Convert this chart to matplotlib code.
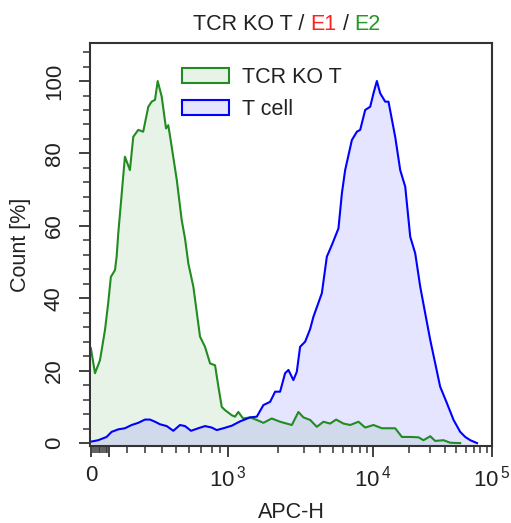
import numpy as np
import matplotlib
matplotlib.use("Agg")
import matplotlib.pyplot as plt
from matplotlib.patches import Patch
from matplotlib.colors import to_rgba
from matplotlib.ticker import FixedLocator, FixedFormatter, NullFormatter

plt.rcParams['font.family'] = ['Liberation Sans', 'DejaVu Sans']
plt.rcParams['mathtext.default'] = 'regular'

# Histogram data: APC-H value vs Count [%]
ko_apc = [-3, 20, 48, 76, 94, 109, 132, 141, 150, 159, 187, 215, 234, 262, 290,
          320, 340, 360, 376, 400, 431, 447, 464, 508, 532, 545, 570, 595, 637, 694,
          739, 785, 840, 880, 922, 965, 1057, 1106, 1158, 1214, 1241, 1362, 1495, 1638,
          1840, 2072, 2483, 2747, 2968, 3342, 3769, 4229, 4733, 5250, 6000, 6784, 7784,
          8737, 10116, 11900, 13520, 15390, 17530, 20580, 24150, 26610, 30300, 33340,
          39160, 44650, 54100]
ko_pct = [26.2, 19.3, 22.9, 31.2, 38.6, 45.9, 47.8, 51.5, 57.9, 63.0, 79.1, 75.4, 84.6, 86.5, 86.0,
          92.9, 94.3, 94.8, 100.0, 95.7, 86.9, 87.8, 83.7, 72.7, 65.5, 61.6, 56.5, 49.6, 43.2, 29.4,
          26.6, 22.0, 21.5, 15.6, 10.0, 9.1, 7.7, 7.3, 8.6, 7.3, 6.8, 7.1, 6.4, 5.6,
          6.8, 5.9, 5.0, 8.6, 7.1, 6.4, 4.5, 5.9, 5.4, 6.5, 5.4, 5.0, 5.9,
          4.3, 5.0, 4.1, 4.1, 4.1, 1.7, 1.7, 1.6, 0.8, 1.9, 0.6,
          0.8, 0.1, 0.0]

tcell_apc = [-3, 38, 85, 113, 150, 187, 225, 262, 300, 330, 360, 390, 436, 483, 532,
             570, 617, 679, 739, 800, 860, 943, 1057, 1186, 1362, 1495, 1638, 1798, 1927, 2072,
             2238, 2356, 2543, 2680, 2820, 3054, 3342, 3546, 4116, 4476, 4867, 5477, 5831, 6189,
             7000, 7587, 8000, 8737, 9540, 10116, 10800, 11520, 12690, 13520, 15390, 16960,
             18690, 20580, 22670, 24970, 27510, 30300, 36700, 41870, 47560, 54100, 59600,
             65700, 74900]
tcell_pct = [0.4, 0.8, 1.7, 3.1, 3.8, 4.1, 5.0, 5.6, 6.5, 6.5, 5.9, 5.2, 4.7, 3.4, 5.0,
             4.7, 3.4, 4.1, 4.7, 4.3, 3.6, 4.1, 4.8, 6.0, 7.1, 7.3, 10.5, 11.4, 14.2, 14.2,
             19.3, 20.2, 17.4, 19.7, 26.6, 28.0, 31.5, 34.9, 41.4, 51.5, 54.7, 59.3, 69.0, 75.4,
             83.7, 86.0, 86.5, 92.0, 92.9, 96.6, 100.0, 96.6, 94.3, 94.3, 84.6, 75.4,
             70.8, 57.0, 52.4, 43.2, 35.8, 28.5, 15.6, 11.0, 6.4, 3.1, 1.7,
             0.8, 0.0]

series_names = ["TCR KO T", "T cell"]
series_colors = ["#228B22", "#0000FF"]

x_major = [0, 100, 1e3, 1e4, 1e5]
x_major_labels = ["0", "", "$10^{\\,3}$", "$10^{\\,4}$", "$10^{\\,5}$"]
y_major = [0, 20, 40, 60, 80, 100]

# --- display transform of the cytometer axis (value -> display position) ---
lin_vals = np.array([0, 100, 200, 300, 400, 500, 600, 700, 800, 900, 1000], float)
lin_pos = np.array([0, 17.8, 35.8, 53.5, 70.2, 84.2, 97.5, 109.2, 120.2, 128.5, 136.2])
log_vals = np.array([1e3, 2e3, 3e3, 4e3, 5e3, 6e3, 7e3, 8e3, 9e3, 1e4])
log_pos = np.array([136.2, 186.2, 212.5, 228.5, 241.8, 251.8, 260.2, 268.5, 275.2, 281.2])
DEC = 119.0  # display units per decade above 1e4
log_vals = np.concatenate([log_vals, 1e4 * np.arange(2, 11)])
log_pos = np.concatenate([log_pos, 281.2 + DEC * np.log10(np.arange(2, 11))])
lin_slope = lin_pos[1] / lin_vals[1]


def fwd(x):
    x = np.asarray(x, float)
    with np.errstate(all='ignore'):
        lo = np.where(x < 0, x * lin_slope, np.interp(x, lin_vals, lin_pos))
        lx = np.log10(np.where(x > 1e3, x, 1e3))
        hi = np.where(lx > 5, log_pos[-1] + DEC * (lx - 5),
                      np.interp(lx, np.log10(log_vals), log_pos))
    return np.where(x <= 1e3, lo, hi)


def inv(p):
    p = np.asarray(p, float)
    with np.errstate(all='ignore'):
        lo = np.where(p < 0, p / lin_slope, np.interp(p, lin_pos, lin_vals))
        lx = np.where(p > log_pos[-1], 5 + (p - log_pos[-1]) / DEC,
                      np.interp(p, log_pos, np.log10(log_vals)))
        hi = 10 ** lx
    return np.where(p <= lin_pos[-1], lo, hi)


W, H = 511, 523
fig = plt.figure(figsize=(W / 100, H / 100), dpi=100)
ax = fig.add_axes([90 / W, 1 - 446 / H, 402 / W, 403 / H])
ax.set_xscale('function', functions=(fwd, inv))

ybottom = -0.8
for apc, pct, color in [(ko_apc, ko_pct, series_colors[0]),
                        (tcell_apc, tcell_pct, series_colors[1])]:
    ax.fill_between(apc, pct, ybottom, color=color, alpha=0.1, lw=0)
    ax.plot(apc, pct, color=color, lw=1.5)

ax.set_xlim(-8, 1e5)
ax.set_ylim(ybottom, 110.5)

x_minor = list(range(10, 100, 10)) + list(range(200, 1000, 100)) + \
    list(range(2000, 10000, 1000)) + list(range(20000, 100000, 10000))
ax.xaxis.set_major_locator(FixedLocator(x_major))
ax.xaxis.set_major_formatter(FixedFormatter(x_major_labels))
ax.xaxis.set_minor_locator(FixedLocator(x_minor))
ax.xaxis.set_minor_formatter(NullFormatter())
ax.set_yticks(y_major)
ax.set_yticks(np.arange(0, 110, 4), minor=True)

frame = '#333333'
for s in ax.spines.values():
    s.set_color(frame)
    s.set_linewidth(1.5)
ax.tick_params(which='major', length=8, width=1.3, color=frame, labelsize=16,
               labelcolor='#222222')
ax.tick_params(which='minor', length=5, width=1.1, color=frame)
ax.tick_params(axis='x', which='major', pad=6)
ax.tick_params(axis='y', which='major', pad=10, labelrotation=90)
for lab in ax.get_yticklabels():
    lab.set_va('center')

ax.set_xlabel("APC-H", fontsize=15.5, color='#222222', labelpad=8)
ax.set_ylabel("Count [%]", fontsize=15.5, color='#222222', labelpad=9)

handles = [Patch(facecolor=to_rgba(c, 0.1), edgecolor=c, lw=1.5) for c in series_colors]
ax.legend(handles, series_names, loc='upper left', bbox_to_anchor=(0.228, 0.94),
          frameon=False, fontsize=15.5, handlelength=2.2, handleheight=0.7,
          handletextpad=0.6, labelspacing=0.5, borderpad=0, borderaxespad=0,
          labelcolor='#222222')

# multi-coloured title
parts = [("TCR KO T / ", '#222222'), ("E1", '#ff2020'), (" / ", '#222222'), ("E2", '#229922')]
title_y = 1 - 30 / H
first = fig.text(0.5, title_y, parts[0][0], color=parts[0][1], fontsize=15.5)
pieces = [first]
for s, c in parts[1:]:
    pieces.append(fig.text(0, 0, s, color=c, fontsize=15.5,
                           transform=matplotlib.transforms.IdentityTransform()))
fig.canvas.draw()
r = fig.canvas.get_renderer()
bb0 = first.get_window_extent(r)
base_y = fig.transFigure.transform((0.5, title_y))[1]
x = bb0.x1
for p in pieces[1:]:
    p.set_position((x, base_y))
    x += p.get_window_extent(r).width
total = x - bb0.x0
shift = 287 - (bb0.x0 + total / 2)
first.set_x(first.get_position()[0] + shift / W)
for p in pieces[1:]:
    px, py = p.get_position()
    p.set_position((px + shift, py))

fig.savefig("out.png", dpi=100)
